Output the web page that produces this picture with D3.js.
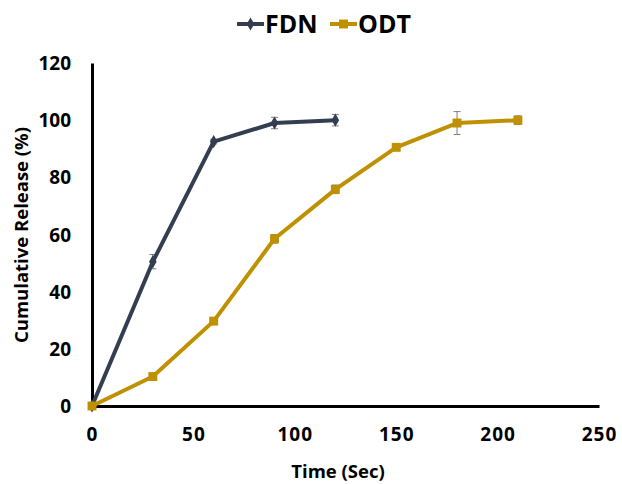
<!DOCTYPE html>
<html>
<head>
<meta charset="utf-8">
<script src="https://cdn.jsdelivr.net/npm/d3@7"></script>
<style>
  body { margin: 0; background: #fff; }
  text { font-family: "Open Sans", "Liberation Sans", sans-serif; font-weight: bold; }
</style>
</head>
<body>
<svg id="chart" width="622" height="484"></svg>
<script>
// data
const fdnTime = [0, 30, 60, 90, 120];
const fdnRelease = [0, 50.5, 92.5, 99, 100];
const fdnErr = [0, 2.5, 0.8, 2, 2];

const odtTime = [0, 30, 60, 90, 120, 150, 180, 210];
const odtRelease = [0, 10.3, 29.7, 58.5, 75.8, 90.5, 99, 100];
const odtErr = [0, 0.8, 1.2, 1.5, 1.5, 1, 4, 1.5];

const xTicks = [0, 50, 100, 150, 200, 250];
const yTicks = [0, 20, 40, 60, 80, 100, 120];

const series = [
  { name: 'FDN', color: '#333f50', shape: d3.symbolDiamond, size: 50,
    pts: fdnTime.map((t, i) => ({ x: t, y: fdnRelease[i], e: fdnErr[i] })) },
  { name: 'ODT', color: '#bf9000', shape: d3.symbolSquare, size: 80,
    pts: odtTime.map((t, i) => ({ x: t, y: odtRelease[i], e: odtErr[i] })) },
];

const svg = d3.select('#chart');
const x = d3.scaleLinear().domain([0, 250]).range([92, 599]);
const y = d3.scaleLinear().domain([0, 120]).range([406, 63]);

// axes, no tick marks
const xAxis = svg.append('g').attr('transform', 'translate(0,406)')
  .call(d3.axisBottom(x).tickValues(xTicks).tickSize(0).tickPadding(22));
const yAxis = svg.append('g').attr('transform', 'translate(92,0)')
  .call(d3.axisLeft(y).tickValues(yTicks).tickSize(0).tickPadding(21));
[xAxis, yAxis].forEach((g) => {
  g.select('.domain').attr('stroke', '#000').attr('stroke-width', 3);
  g.selectAll('text').attr('font-size', 19).attr('fill', '#000')
    .style('font-family', '"Open Sans", sans-serif').style('font-weight', 'bold');
});
xAxis.selectAll('text').style('letter-spacing', '1px');
yAxis.selectAll('text').attr('dy', '0.35em');

svg.append('text').attr('x', 338).attr('y', 478).attr('text-anchor', 'middle')
  .attr('font-size', 18.5).text('Time (Sec)');
svg.append('text').attr('transform', 'translate(28,235) rotate(-90)')
  .attr('text-anchor', 'middle').attr('font-size', 18.5).text('Cumulative Release (%)');

const line = d3.line().x((d) => x(d.x)).y((d) => y(d.y));

series.forEach((s) => {
  const g = svg.append('g');
  // error bars
  const eb = g.selectAll('.eb').data(s.pts.filter((d) => d.e > 0)).enter().append('g')
    .attr('stroke', '#7f7f7f').attr('stroke-width', 1);
  eb.append('line').attr('x1', (d) => x(d.x)).attr('x2', (d) => x(d.x))
    .attr('y1', (d) => y(d.y - d.e)).attr('y2', (d) => y(d.y + d.e));
  eb.append('line').attr('x1', (d) => x(d.x) - 3.5).attr('x2', (d) => x(d.x) + 3.5)
    .attr('y1', (d) => y(d.y - d.e)).attr('y2', (d) => y(d.y - d.e));
  eb.append('line').attr('x1', (d) => x(d.x) - 3.5).attr('x2', (d) => x(d.x) + 3.5)
    .attr('y1', (d) => y(d.y + d.e)).attr('y2', (d) => y(d.y + d.e));

  g.append('path').datum(s.pts).attr('d', line)
    .attr('fill', 'none').attr('stroke', s.color).attr('stroke-width', 4)
    .attr('stroke-linejoin', 'round');
  g.selectAll('.pt').data(s.pts).enter().append('path')
    .attr('transform', (d) => `translate(${x(d.x)},${y(d.y)})`)
    .attr('d', d3.symbol().type(s.shape).size(s.size))
    .attr('fill', s.color);
});

// legend
const legend = [{ s: series[0], x0: 237 }, { s: series[1], x0: 330 }];
legend.forEach(({ s, x0 }) => {
  svg.append('line').attr('x1', x0).attr('x2', x0 + 27).attr('y1', 24).attr('y2', 24)
    .attr('stroke', s.color).attr('stroke-width', 4);
  svg.append('path').attr('transform', `translate(${x0 + 13.5},24)`)
    .attr('d', d3.symbol().type(s.shape).size(s.size)).attr('fill', s.color);
  svg.append('text').attr('x', x0 + 28).attr('y', 24).attr('dy', '0.35em')
    .attr('font-size', 25).text(s.name);
});
</script>
</body>
</html>
